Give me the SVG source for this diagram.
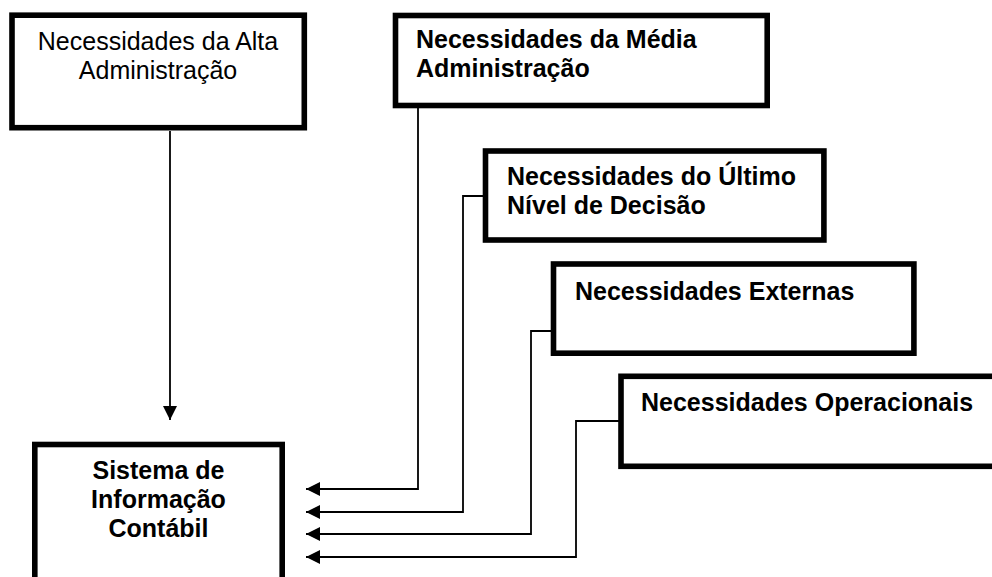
<svg xmlns="http://www.w3.org/2000/svg" width="992" height="577" viewBox="0 0 992 577">
<style>
.box{fill:#fff;stroke:#000;stroke-width:5.6}
.t{font-family:"Liberation Sans",Arial,sans-serif;font-size:25px;fill:#000}
.b{font-weight:bold}
.c{stroke:#000;stroke-width:1.8;fill:none}
</style>
<defs>
<marker id="ah" markerUnits="userSpaceOnUse" markerWidth="14" markerHeight="14" refX="14" refY="7" orient="auto">
<path d="M0,0 L14,7 L0,14 z" fill="#000"/>
</marker>
</defs>
<rect width="992" height="577" fill="#fff"/>
<g id="connectors">
<path class="c" d="M170,131 V420" marker-end="url(#ah)"/>
<path class="c" d="M418,108 V489 H306" marker-end="url(#ah)"/>
<path class="c" d="M483,196 H463 V512 H306" marker-end="url(#ah)"/>
<path class="c" d="M551,331 H531 V534 H306" marker-end="url(#ah)"/>
<path class="c" d="M619,421 H576 V557 H306" marker-end="url(#ah)"/>
</g>
<g id="alta">
<rect class="box" x="12" y="15.2" width="292.3" height="112.5"/>
<text class="t" text-anchor="middle" x="158" y="50">Necessidades da Alta</text>
<text class="t" text-anchor="middle" x="158" y="79">Administração</text>
</g>
<g id="media">
<rect class="box" x="395.5" y="15.5" width="371.7" height="90"/>
<text class="t b" x="416" y="48">Necessidades da Média</text>
<text class="t b" x="416" y="77">Administração</text>
</g>
<g id="ultimo">
<rect class="box" x="485.5" y="151" width="338.4" height="89"/>
<text class="t b" x="507" y="185">Necessidades do Último</text>
<text class="t b" x="507" y="214">Nível de Decisão</text>
</g>
<g id="externas">
<rect class="box" x="553.5" y="264" width="360.4" height="89.2"/>
<text class="t b" x="575" y="300">Necessidades Externas</text>
</g>
<g id="operacionais">
<rect class="box" x="621" y="376.3" width="400" height="90"/>
<text class="t b" x="641" y="411">Necessidades Operacionais</text>
</g>
<g id="sistema">
<rect class="box" x="34.8" y="444.5" width="247.4" height="160"/>
<text class="t b" text-anchor="middle" x="158.5" y="479">Sistema de</text>
<text class="t b" text-anchor="middle" x="158.5" y="508">Informação</text>
<text class="t b" text-anchor="middle" x="158.5" y="537">Contábil</text>
</g>
</svg>
